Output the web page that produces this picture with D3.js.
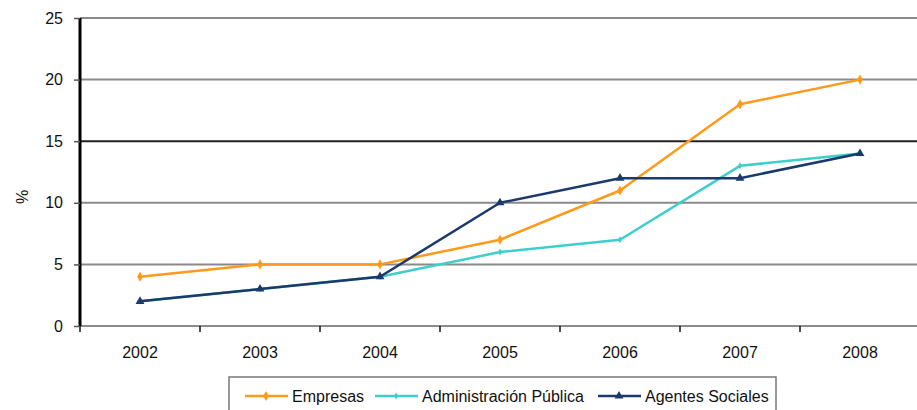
<!DOCTYPE html>
<html><head><meta charset="utf-8">
<script src="https://cdn.jsdelivr.net/npm/d3@7"></script>
<style>body{margin:0;background:#fff}svg{display:block;font-family:"Liberation Sans",Arial,sans-serif}</style>
</head><body><svg id="c" width="917" height="410"></svg>
<script>
const categories = ["2002","2003","2004","2005","2006","2007","2008"];
const empresas = [4,5,5,7,11,18,20];
const administracion = [2,3,4,6,7,13,14];
const agentes = [2,3,4,10,12,12,14];
const yTicks = [0,5,10,15,20,25];
const seriesNames = ["Empresas","Administración Pública","Agentes Sociales"];

const series = [
  {name: seriesNames[0], values: empresas, color: "#FF9A1A", symbol: d3.symbolDiamond, size: 30},
  {name: seriesNames[1], values: administracion, color: "#3CCFCB", symbol: d3.symbolDiamond, size: 14},
  {name: seriesNames[2], values: agentes, color: "#1B3A6B", symbol: d3.symbolTriangle, size: 34}
];

const svg = d3.select("#c");
const mLeft = 80, mRight = 920, mTop = 18, mBottom = 326;
const x = d3.scaleBand().domain(categories).range([mLeft, mRight]);
const y = d3.scaleLinear().domain([0,25]).range([mBottom, mTop]);
const FONT = '"Liberation Sans",Arial,sans-serif';

// gridlines
svg.append("g").selectAll("line").data(yTicks.filter(d=>d>0)).join("line")
  .attr("x1", mLeft).attr("x2", 917)
  .attr("y1", d=>y(d)).attr("y2", d=>y(d))
  .attr("stroke", d=> d===15 ? "#222" : "#8a8a8a").attr("stroke-width", 2);

// x axis
const xa = svg.append("g").attr("transform", `translate(0,${mBottom})`)
  .call(d3.axisBottom(x).tickSize(0).tickPadding(21));
xa.select(".domain").attr("stroke","#8a8a8a").attr("stroke-width",2).attr("d", `M${mLeft},0H917`);
xa.selectAll("text").attr("font-size", 16).attr("fill","#111").attr("font-family",FONT);
// band boundary ticks
svg.append("g").selectAll("line").data(categories).join("line")
  .attr("x1", d=>x(d)).attr("x2", d=>x(d))
  .attr("y1", mBottom).attr("y2", mBottom+6)
  .attr("stroke","#111").attr("stroke-width",1.5);

// y axis
const ya = svg.append("g").attr("transform", `translate(${mLeft},0)`)
  .call(d3.axisLeft(y).tickValues(yTicks).tickSize(6).tickPadding(11));
ya.select(".domain").attr("stroke","#000").attr("stroke-width",3).attr("d", `M0,${mTop}V${mBottom}`);
ya.selectAll(".tick line").attr("stroke","#555").attr("stroke-width",1.5);
ya.selectAll("text").attr("font-size", 16).attr("fill","#111").attr("font-family",FONT);

svg.append("text").attr("transform","translate(28,197) rotate(-90)")
  .attr("text-anchor","middle").attr("font-size",16).attr("fill","#111").text("%");

// lines
const line = d3.line().x((d,i)=>x(categories[i]) + x.bandwidth()/2).y(d=>y(d));
series.forEach(s=>{
  svg.append("path").datum(s.values).attr("d", line)
    .attr("fill","none").attr("stroke", s.color).attr("stroke-width", 2.5).attr("stroke-linejoin","round");
  svg.append("g").selectAll("path").data(s.values).join("path")
    .attr("transform",(d,i)=>`translate(${x(categories[i]) + x.bandwidth()/2},${y(d)})`)
    .attr("d", d3.symbol(s.symbol, s.size)).attr("fill", s.color);
});

// legend
svg.append("rect").attr("x",229).attr("y",377).attr("width",547).attr("height",40)
  .attr("fill","#fff").attr("stroke","#777").attr("stroke-width",1.5);
const legX = [245, 375, 598];
series.forEach((s,i)=>{
  const g = svg.append("g").attr("transform",`translate(${legX[i]},396)`);
  g.append("line").attr("x1",0).attr("x2",43).attr("stroke",s.color).attr("stroke-width",2.5);
  g.append("path").attr("transform","translate(21,0)").attr("d", d3.symbol(s.symbol, s.size)).attr("fill", s.color);
  g.append("text").attr("x",47).attr("y",6).attr("font-size",16).attr("fill","#111").attr("font-family",FONT).text(s.name);
});
</script></body></html>
